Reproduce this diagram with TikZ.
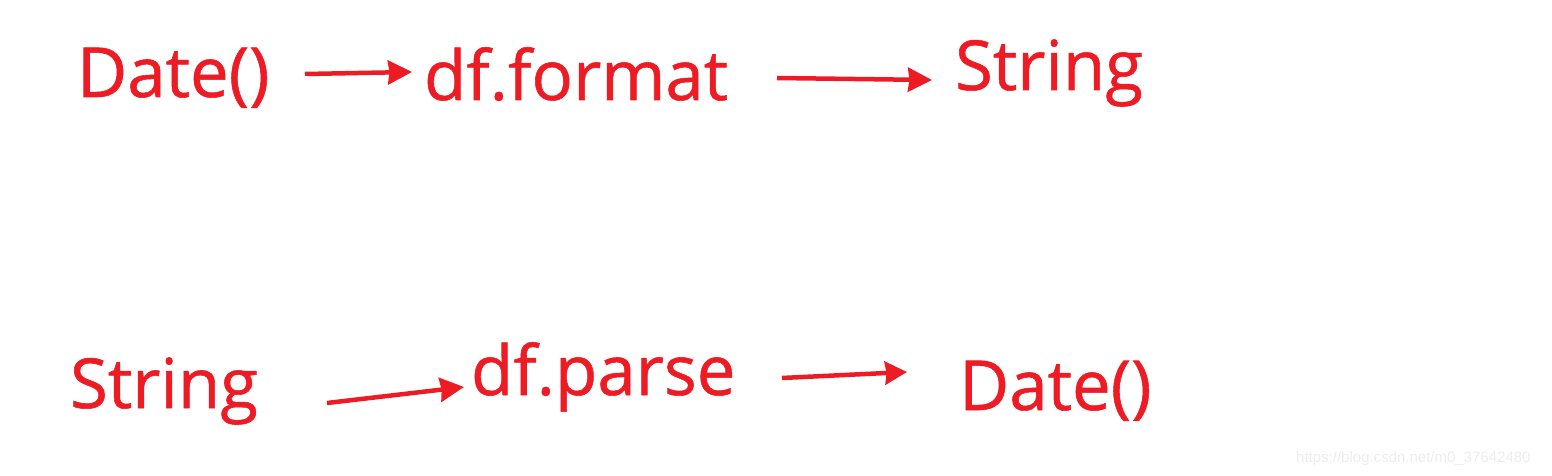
\documentclass[tikz,border=0pt]{standalone}
\usepackage{fontspec}
\setmainfont[FakeBold=0.8]{Open Sans}
\newfontfamily\wmfont{Liberation Sans}
\usetikzlibrary{arrows.meta}
\definecolor{redink}{HTML}{ED1C24}
\tikzset{
  word/.style={anchor=base west, inner sep=0pt, outer sep=0pt, text=redink, font=\fontsize{69}{80}\selectfont},
  conn/.style={draw=redink, line width=4.5pt, -{Stealth[length=24pt,width=24pt,inset=1.5pt]}}
}
\begin{document}
\begin{tikzpicture}[x=1pt,y=-1pt]
\useasboundingbox (0,0) rectangle (1552,476);
% top row
\node[word] (date1) at (77,97) {Date()};
\node[word] (fmt) at (424,100) {df.format};
\node[word] (str1) at (955,90) {String};
% bottom row
\node[word] (str2) at (70,408) {String};
\node[word] (parse) at (471,395) {df.parse};
\node[word] (date2) at (959,410) {Date()};
% arrow ends
\coordinate (a1s) at (305,74);
\coordinate (a1e) at (412,72);
\coordinate (a2s) at (777,78);
\coordinate (a2e) at (932,80);
\coordinate (a3s) at (327,403);
\coordinate (a3e) at (464,387);
\coordinate (a4s) at (782,378);
\coordinate (a4e) at (907,372);
\draw[conn] (a1s) -- (a1e);
\draw[conn] (a2s) -- (a2e);
\draw[conn] (a3s) -- (a3e);
\draw[conn,-{Stealth[length=22pt,width=23pt,inset=1.5pt]}] (a4s) -- (a4e);
% watermark
\node[anchor=base west, inner sep=0pt, text=black!7, font=\wmfont\fontsize{15}{18}\selectfont] (wm) at (1296,462) {https://blog.csdn.net/m0\_37642480};
\end{tikzpicture}
\end{document}
